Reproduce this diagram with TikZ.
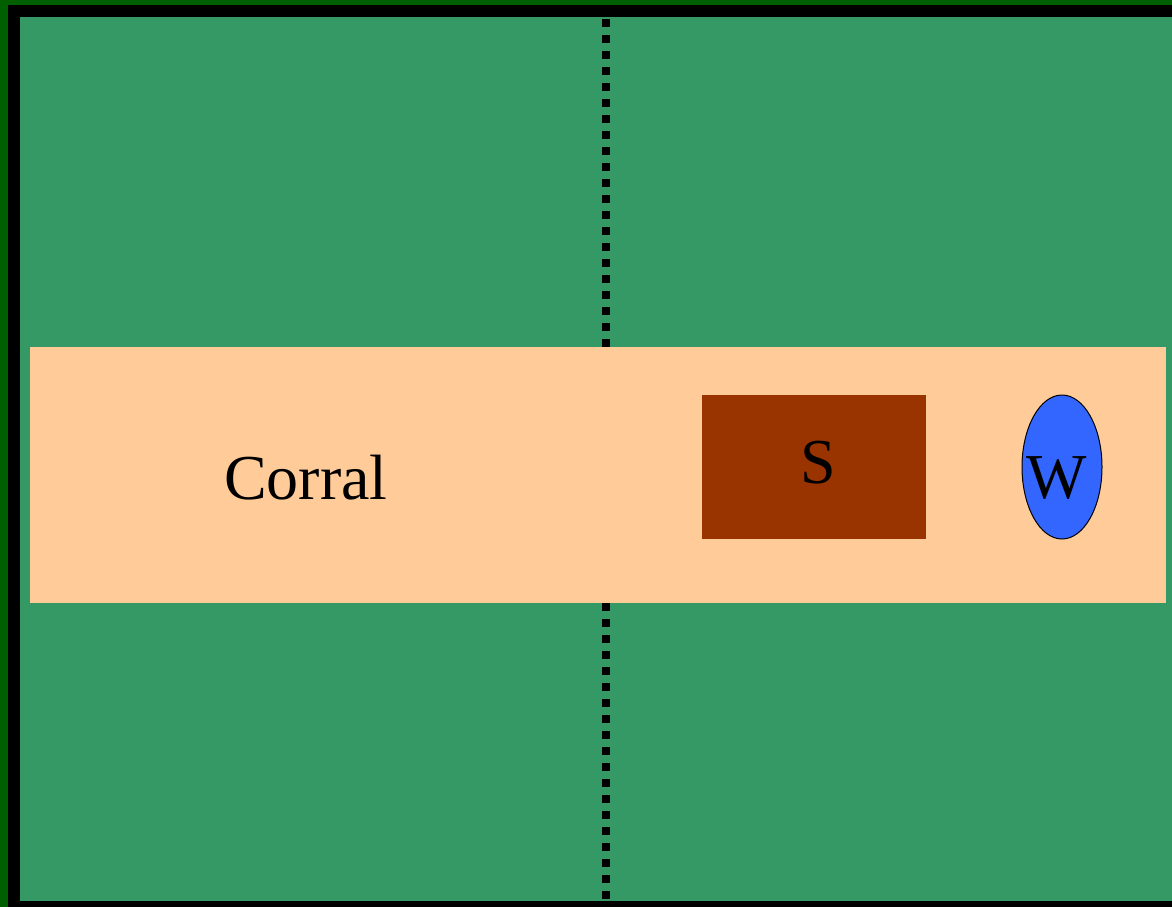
\documentclass[tikz,border=0pt]{standalone}
\usepackage{fontspec}
\usetikzlibrary{shapes.geometric}
\setmainfont{Liberation Serif}
\definecolor{fieldgreen}{HTML}{359966}
\definecolor{edgegreen}{HTML}{006000}
\definecolor{corralc}{HTML}{FFCC99}
\definecolor{shedc}{HTML}{993300}
\definecolor{wellc}{HTML}{3366FF}
\begin{document}
\begin{tikzpicture}[x=1pt,y=-1pt,
  fence/.style={line width=8pt,dash pattern=on 8pt off 8pt},
  lbl/.style={font=\fontsize{64}{70}\selectfont,inner sep=0pt}]
\useasboundingbox (0,0) rectangle (1172,907);
\fill[edgegreen] (0,0) rectangle (1172,907);
\fill[black] (8,5) rectangle (1172,907);
\fill[fieldgreen] (20,17) rectangle (1172,901);
\draw[fence] (606,19) -- (606,347);
\draw[fence] (606,603) -- (606,901);
\fill[corralc] (30,347) rectangle (1166,603);
\node[lbl] (corral) at (306,478) {Corral};
\node[fill=shedc,minimum width=224pt,minimum height=144pt,inner sep=0pt] (shed) at (814,467) {};
\node[lbl] (s) at (818,463) {S};
\node[draw=black,line width=1pt,fill=wellc,ellipse,minimum width=80pt,minimum height=144pt,inner sep=0pt] (well) at (1062,467) {};
\node[lbl] (w) at (1057,478) {W};
\end{tikzpicture}
\end{document}
